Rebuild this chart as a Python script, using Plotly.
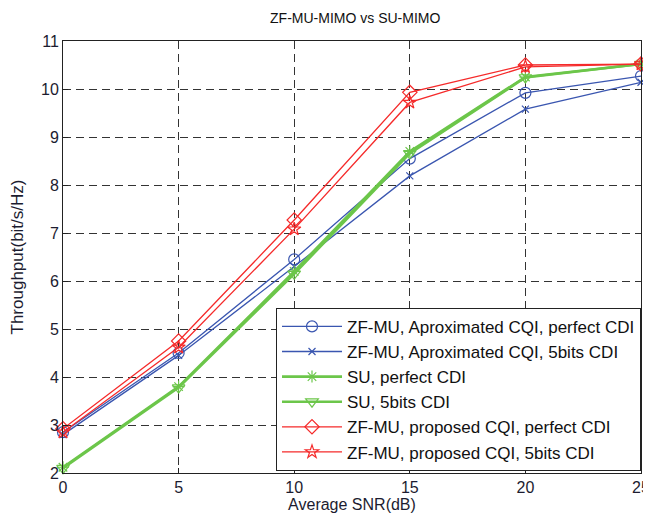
import plotly.graph_objects as go

snr = [0, 5, 10, 15, 20, 25]
zf_aprox_perfect = [2.85, 4.50, 6.45, 8.55, 9.92, 10.27]
zf_aprox_5bits = [2.80, 4.45, 6.30, 8.19, 9.58, 10.14]
su_perfect = [2.12, 3.80, 6.20, 8.70, 10.25, 10.52]
su_5bits = [2.10, 3.78, 6.15, 8.66, 10.24, 10.52]
zf_prop_perfect = [2.92, 4.75, 7.27, 9.93, 10.50, 10.52]
zf_prop_5bits = [2.85, 4.62, 7.08, 9.72, 10.46, 10.52]

names = [
    "ZF-MU, Aproximated CQI, perfect CDI",
    "ZF-MU, Aproximated CQI, 5bits CDI",
    "SU, perfect CDI",
    "SU, 5bits CDI",
    "ZF-MU, proposed CQI, perfect CDI",
    "ZF-MU, proposed CQI, 5bits CDI",
]

blue = "#3a56b0"
green = "#6cc64a"
red = "#f52a2a"

series = [
    (zf_aprox_perfect, blue, "circle-open", 1.3, 11),
    (zf_aprox_5bits, blue, "x-thin-open", 1.3, 7),
    (su_perfect, green, "asterisk-open", 2.6, 10),
    (su_5bits, green, "triangle-down-open", 2.6, 11),
    (zf_prop_perfect, red, "diamond-open", 1.3, 11),
    (zf_prop_5bits, red, "star-open", 1.3, 10),
]

fig = go.Figure()
for (ys, col, sym, lw, ms), nm in zip(series, names):
    fig.add_trace(go.Scatter(
        x=snr, y=ys, name=nm, mode="lines+markers",
        line=dict(color=col, width=lw),
        marker=dict(symbol=sym, size=ms, color=col, line=dict(color=col, width=1.2)),
        cliponaxis=False,
    ))

axis_common = dict(
    showline=True, linecolor="#222", linewidth=1, mirror=True,
    ticks="inside", ticklen=5, tickcolor="#222",
    showgrid=True, gridcolor="#333", griddash="8px,5px", gridwidth=1,
    zeroline=False, tickfont=dict(size=16, color="#1c1c30"),
    ticklabeloverflow="allow", automargin=False,
)

# page body adds an 8px offset; compensate so the plot sits where it should
fig.update_layout(
    width=643, height=514,
    margin=dict(l=55, r=10, t=33, b=49),
    paper_bgcolor="white", plot_bgcolor="white",
    font=dict(family="Liberation Sans, Arial, sans-serif", color="#1c1c30"),
    title=dict(text="ZF-MU-MIMO vs SU-MIMO", x=0.54, xanchor="center", y=0.98, yanchor="middle",
               font=dict(size=14, color="#111")),
    xaxis=dict(range=[0, 25], dtick=5, title=dict(text="Average SNR(dB)", font=dict(size=16), standoff=3),
               **axis_common),
    yaxis=dict(range=[2, 11], dtick=1, title=dict(text="Throughput(bit/s/Hz)", font=dict(size=17), standoff=23),
               **axis_common),
    legend=dict(x=1, xanchor="right", y=0.005, yanchor="bottom",
                bgcolor="white", bordercolor="#222", borderwidth=1,
                font=dict(size=17, color="#111"), tracegroupgap=0, itemwidth=60),
    showlegend=True,
)

fig.write_html("out.html")
